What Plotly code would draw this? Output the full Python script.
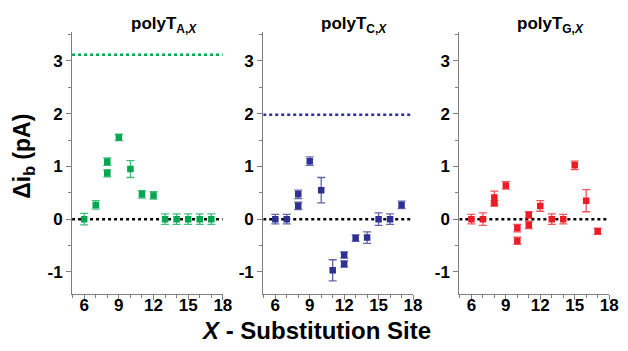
import plotly.graph_objects as go

# ---- data ----
sites_A = [6, 7, 8, 8, 9, 10, 11, 12, 13, 14, 15, 16, 17]
vals_A = [0.0, 0.27, 1.09, 0.87, 1.55, 0.95, 0.47, 0.45, 0.0, 0.0, 0.0, 0.0, 0.0]
errs_A = [0.11, 0.08, 0.07, 0.07, 0.06, 0.16, 0.07, 0.07, 0.1, 0.1, 0.1, 0.1, 0.1]

sites_C = [6, 7, 8, 8, 9, 10, 11, 12, 12, 13, 14, 15, 16, 17]
vals_C = [0.0, 0.0, 0.47, 0.25, 1.10, 0.55, -0.97, -0.68, -0.85, -0.36, -0.35, 0.0, 0.0, 0.27]
errs_C = [0.09, 0.09, 0.08, 0.07, 0.08, 0.24, 0.2, 0.06, 0.06, 0.06, 0.11, 0.12, 0.1, 0.07]

sites_G = [6, 7, 8, 8, 9, 10, 10, 11, 11, 12, 13, 14, 15, 16, 17]
vals_G = [0.0, 0.0, 0.41, 0.30, 0.64, -0.17, -0.41, 0.08, -0.11, 0.25, 0.0, 0.0, 1.02, 0.35, -0.23]
errs_G = [0.09, 0.12, 0.12, 0.05, 0.07, 0.07, 0.07, 0.06, 0.07, 0.1, 0.1, 0.09, 0.08, 0.21, 0.06]

ref_levels = [3.12, 1.98, None]  # dotted reference level per panel
zero_level = 0.0
x_ticks = [6, 9, 12, 15, 18]
y_ticks = [-1, 0, 1, 2, 3]
y_ticktext = ["-1", "0", "1", "2", "3"]
panel_titles = ["<b>polyT<sub>A,<i>X</i></sub></b>",
                "<b>polyT<sub>C,<i>X</i></sub></b>",
                "<b>polyT<sub>G,<i>X</i></sub></b>"]
colors = ["#00A650", "#2E3192", "#ED1C24"]
err_colors = ["rgba(0,166,80,0.75)", "rgba(46,49,146,0.75)", "rgba(237,28,36,0.75)"]

XMIN, XMAX = 4.95, 18
OFF = 8  # page body margin
W, H = 628 - OFF, 351 - OFF
x_dom_px = [(73, 226), (267, 419), (466, 618)]
y_dom_px = (32, 294)

def px_x(p):
    return (p - OFF) / W

def px_y(p):
    return 1 - (p - OFF) / H

fig = go.Figure()
datasets = [(sites_A, vals_A, errs_A), (sites_C, vals_C, errs_C), (sites_G, vals_G, errs_G)]
font_fam = "Liberation Sans, Arial, sans-serif"

for i, (sx, sv, se) in enumerate(datasets):
    xa = "x" if i == 0 else f"x{i+1}"
    ya = "y" if i == 0 else f"y{i+1}"
    fig.add_trace(go.Scatter(x=[XMIN, XMAX], y=[zero_level, zero_level], mode="lines",
                             line=dict(color="black", width=2.5, dash="dot"),
                             xaxis=xa, yaxis=ya, showlegend=False, hoverinfo="skip"))
    if ref_levels[i] is not None:
        fig.add_trace(go.Scatter(x=[XMIN, XMAX], y=[ref_levels[i]] * 2, mode="lines",
                                 line=dict(color=colors[i], width=2.5, dash="dot"),
                                 xaxis=xa, yaxis=ya, showlegend=False, hoverinfo="skip"))
    fig.add_trace(go.Scatter(x=sx, y=sv, mode="markers",
                             marker=dict(symbol="square", size=6.5, color=colors[i]),
                             error_y=dict(type="data", array=se, visible=True,
                                          color=err_colors[i], thickness=1.3, width=4),
                             xaxis=xa, yaxis=ya, showlegend=False))

    dom = [px_x(x_dom_px[i][0]), px_x(x_dom_px[i][1])]
    ydom = [px_y(y_dom_px[1]), px_y(y_dom_px[0])]
    axis_common = dict(showgrid=False, zeroline=False, showline=True, linecolor="#7f7f7f",
                       linewidth=1, ticks="outside", ticklen=5, tickcolor="#7f7f7f",
                       tickfont=dict(family=font_fam, size=17, color="black", weight="bold"))
    fig.update_layout(**{
        ("xaxis" if i == 0 else f"xaxis{i+1}"): dict(
            domain=dom, range=[XMIN, XMAX], tickvals=x_ticks, anchor=ya,
            ticklabelstandoff=-9,
            minor=dict(dtick=1, tick0=0, ticks="outside", ticklen=3, tickcolor="#7f7f7f"),
            **axis_common),
        ("yaxis" if i == 0 else f"yaxis{i+1}"): dict(
            domain=ydom, range=[-1.42, 3.55], tickvals=y_ticks, ticktext=y_ticktext, anchor=xa,
            minor=dict(dtick=0.5, tick0=0, ticks="outside", ticklen=3, tickcolor="#7f7f7f"),
            **axis_common),
    })
    fig.add_annotation(text=panel_titles[i], xref=xa, yref="paper", x=12.9, y=px_y(25),
                       showarrow=False, font=dict(family=font_fam, size=17, color="black"),
                       xanchor="center", yanchor="middle")

fig.add_annotation(text="<b>Δi<sub>b</sub> (pA)</b>", xref="paper", yref="paper",
                   x=px_x(23), y=px_y(156), textangle=-90, showarrow=False,
                   font=dict(family=font_fam, size=23, color="black"),
                   xanchor="center", yanchor="middle")
fig.add_annotation(text="<b><i>X</i> - Substitution Site</b>", xref="paper", yref="paper",
                   x=px_x(321), y=px_y(330), showarrow=False,
                   font=dict(family=font_fam, size=24, color="black"),
                   xanchor="center", yanchor="middle")

fig.update_layout(width=W, height=H, margin=dict(l=0, r=0, t=0, b=0),
                  plot_bgcolor="white", paper_bgcolor="white")
fig.write_html("out.html")
